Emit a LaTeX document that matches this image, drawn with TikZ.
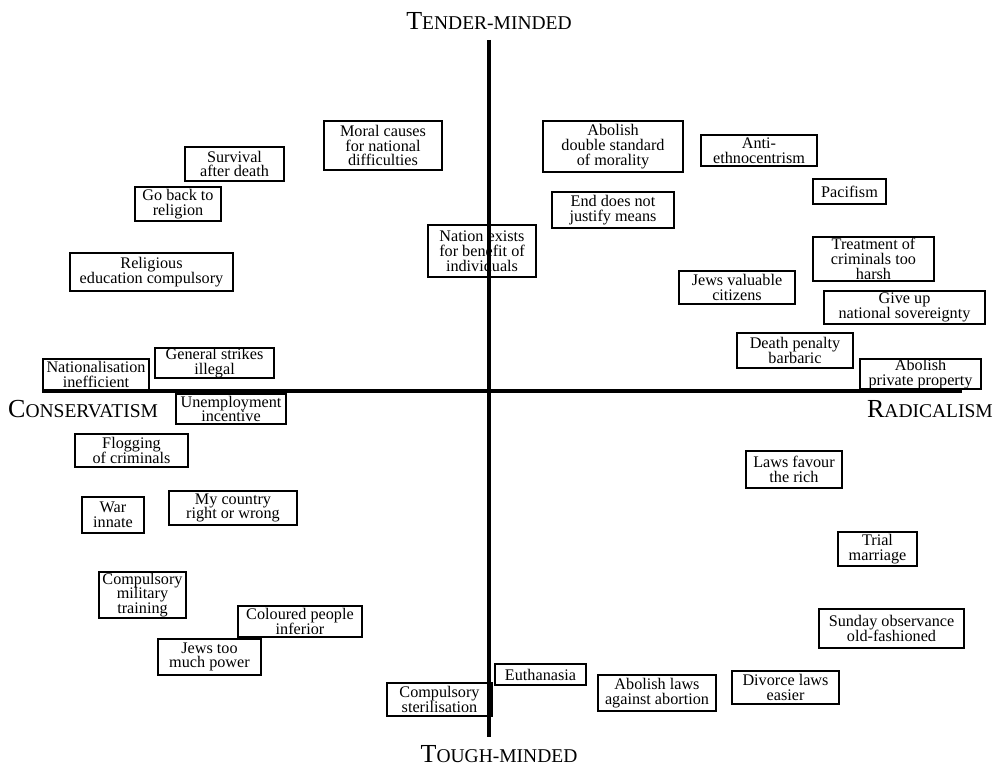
\documentclass[tikz,border=0pt]{standalone}
\usepackage{fontspec}
\setmainfont{Liberation Serif}
\tikzset{
  item/.style={draw, line width=1.3pt, inner sep=0pt, align=center,
    font=\fontsize{16.2}{14.8}\selectfont},
  axis/.style={line width=3.2pt},
  pole/.style={inner sep=0pt, anchor=base, font=\fontsize{19.5}{20}\selectfont}
}
\newcommand{\capini}[1]{{\fontsize{26}{26}\selectfont #1}}
\newcommand{\bx}[6]{\node[item, minimum width={#4-#2}, minimum height={#5-#3}] (#1) at ({(#2+#4)/2},{(#3+#5)/2}) {#6};}
\begin{document}
\begin{tikzpicture}[x=1pt,y=-1pt]
\useasboundingbox (0,0) rectangle (996,767);
\fill[white] (0,0) rectangle (996,767);
% axes
\coordinate (vt) at (489,40);
\coordinate (vb) at (489,737);
\coordinate (hl) at (42,391);
\coordinate (hr) at (962,391);
\draw[axis] (vt) -- (vb);
\draw[axis] (hl) -- (hr);
% pole labels
\node[pole] (tender) at (489,30) {\capini{T}ENDER-MINDED};
\node[pole] (tough) at (499,762) {\capini{T}OUGH-MINDED};
\node[pole, anchor=base west] (cons) at (8,417) {\capini{C}ONSERVATISM};
\node[pole, anchor=base east] (rad) at (993,417) {\capini{R}ADICALISM};
% boxes: name, left, top, right, bottom, text
\bx{moral}{324}{121}{442}{170}{Moral causes\\for national\\difficulties}
\bx{surv}{185}{147}{284}{181}{Survival\\after death}
\bx{goback}{135}{187}{221}{221}{Go back to\\religion}
\bx{relig}{70}{253}{233}{291}{Religious\\education compulsory}
\bx{nation}{428}{225}{536}{277}{Nation exists\\for benefit of\\individuals}
\bx{double}{543}{121}{683}{172}{Abolish\\double standard\\of morality}
\bx{anti}{701}{135}{817}{166}{Anti-\\ethnocentrism}
\bx{paci}{813}{179}{886}{204}{Pacifism}
\bx{endm}{552}{192}{674}{228}{End does not\\justify means}
\bx{treat}{813}{237}{934}{281}{Treatment of\\criminals too\\harsh}
\bx{jewsv}{679}{271}{795}{304}{Jews valuable\\citizens}
\bx{giveup}{824}{291}{985}{324}{Give up\\national sovereignty}
\bx{death}{737}{333}{853}{368}{Death penalty\\barbaric}
\bx{priv}{860}{359}{981}{389}{Abolish\\private property}
\bx{natin}{43}{359}{149}{390}{Nationalisation\\inefficient}
\bx{strikes}{155}{348}{274}{378}{General strikes\\illegal}
\bx{unemp}{176}{394}{286}{424}{Unemployment\\incentive}
\bx{flog}{75}{434}{188}{467}{Flogging\\of criminals}
\bx{war}{82}{497}{144}{533}{War\\innate}
\bx{mycountry}{169}{491}{297}{525}{My country\\right or wrong}
\bx{milit}{99}{572}{186}{618}{Compulsory\\military\\training}
\bx{colour}{238}{606}{362}{637}{Coloured people\\inferior}
\bx{jewsp}{158}{639}{261}{675}{Jews too\\much power}
\bx{steril}{387}{683}{492}{716}{Compulsory\\sterilisation}
\bx{laws}{746}{451}{842}{488}{Laws favour\\the rich}
\bx{trial}{838}{532}{917}{566}{Trial\\marriage}
\bx{sunday}{819}{609}{964}{648}{Sunday observance\\old-fashioned}
\bx{euth}{495}{664}{586}{685}{Euthanasia}
\bx{abort}{598}{675}{716}{711}{Abolish laws\\against abortion}
\bx{divorce}{732}{671}{839}{704}{Divorce laws\\easier}
\end{tikzpicture}
\end{document}
